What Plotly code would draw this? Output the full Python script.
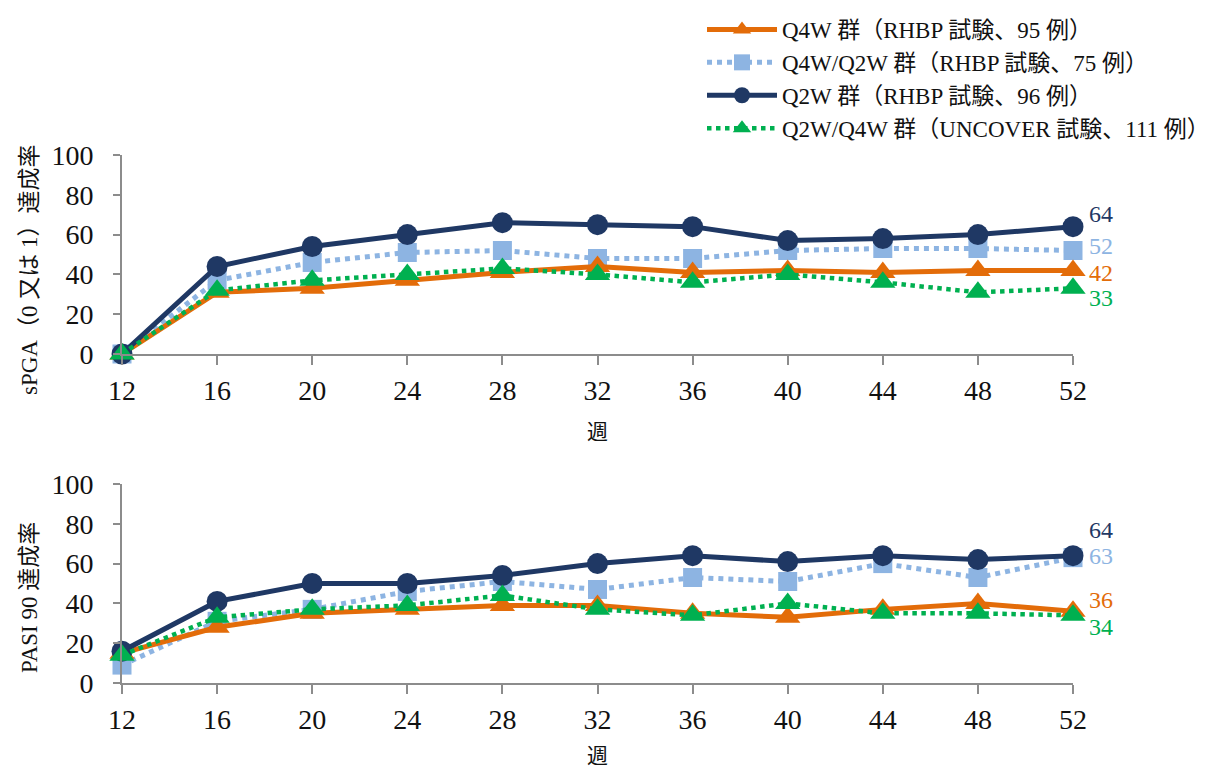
import plotly.graph_objects as go

weeks = [12, 16, 20, 24, 28, 32, 36, 40, 44, 48, 52]
x_ticks = [12, 16, 20, 24, 28, 32, 36, 40, 44, 48, 52]
y_ticks = [0, 20, 40, 60, 80, 100]

series_names = [
    "Q4W 群（RHBP 試験、95 例）",
    "Q4W/Q2W 群（RHBP 試験、75 例）",
    "Q2W 群（RHBP 試験、96 例）",
    "Q2W/Q4W 群（UNCOVER 試験、111 例）",
]

# sPGA (0 or 1) response rate
spga_q4w = [0, 31, 33, 37, 41, 44, 41, 42, 41, 42, 42]
spga_q4w_q2w = [0, 37, 46, 51, 52, 48, 48, 52, 53, 53, 52]
spga_q2w = [0, 44, 54, 60, 66, 65, 64, 57, 58, 60, 64]
spga_q2w_q4w = [0, 32, 37, 40, 43, 40, 36, 40, 36, 31, 33]

# PASI 90 response rate
pasi_q4w = [15, 28, 35, 37, 39, 39, 35, 33, 37, 40, 36]
pasi_q4w_q2w = [9, 31, 37, 46, 51, 47, 53, 51, 60, 53, 63]
pasi_q2w = [16, 41, 50, 50, 54, 60, 64, 61, 64, 62, 64]
pasi_q2w_q4w = [14, 33, 37, 39, 44, 37, 34, 40, 35, 35, 34]

y_titles = ["sPGA（0 又は 1）達成率", "PASI 90 達成率"]
x_title = "週"

colors = ["#E36C09", "#8DB4E2", "#1F3864", "#00B050"]
symbols = ["triangle-up", "square", "circle", "triangle-up"]
dashes = ["solid", "dot", "solid", "dot"]
widths = [5, 5, 5, 4.5]
msizes = [22, 19, 21, 22]
draw_order = [1, 0, 2, 3]

FONT = "'Liberation Serif', 'Noto Sans CJK JP', serif"

panels = [
    [spga_q4w, spga_q4w_q2w, spga_q2w, spga_q2w_q4w],
    [pasi_q4w, pasi_q4w_q2w, pasi_q2w, pasi_q2w_q4w],
]
# label vertical offsets (px) for end labels
label_shifts = [[-3, 5, 13, -10], [11, 2, 26, -12]]

W, H = 1225, 772
OFF = 8  # page body margin


def px_x(v):
    return (v - OFF) / W


def px_y(v):
    return 1 - (v - OFF) / H


fig = go.Figure()
for p, data in enumerate(panels):
    xa = "x" if p == 0 else "x2"
    ya = "y" if p == 0 else "y2"
    for i in draw_order:
        fig.add_trace(go.Scatter(
            x=weeks, y=data[i], xaxis=xa, yaxis=ya,
            mode="lines+markers", name=series_names[i],
            line=dict(color=colors[i], width=widths[i], dash=dashes[i]),
            marker=dict(symbol=symbols[i], size=msizes[i], color=colors[i]),
            showlegend=(p == 0), legendrank=i + 1, cliponaxis=False,
        ))
    for i in range(4):
        fig.add_annotation(
            x=weeks[-1], y=data[i][-1], xref=xa, yref=ya,
            text=str(data[i][-1]), showarrow=False, xanchor="left",
            yanchor="middle", xshift=14, yshift=label_shifts[p][i],
            font=dict(family=FONT, size=24, color=colors[i]),
        )

axis_common = dict(
    showgrid=False, zeroline=False, showline=True, linecolor="#8C8C8C",
    linewidth=2, ticks="outside", tickcolor="#8C8C8C", tickwidth=2,
    tickfont=dict(family=FONT, size=28, color="#111"), automargin=False,
)
xd = [px_x(122), px_x(1073)]
fig.update_layout(
    width=W, height=H,
    margin=dict(l=0, r=0, t=0, b=0, autoexpand=False),
    paper_bgcolor="white", plot_bgcolor="white",
    font=dict(family=FONT, color="#111"),
    xaxis=dict(domain=xd, anchor="y", range=[12, 52], tickvals=x_ticks, ticklen=9,
               ticklabelstandoff=1, **axis_common),
    yaxis=dict(domain=[px_y(354), px_y(155)], anchor="x", range=[0, 100],
               tickvals=y_ticks, ticklen=7, ticklabelstandoff=14, **axis_common),
    xaxis2=dict(domain=xd, anchor="y2", range=[12, 52], tickvals=x_ticks, ticklen=9,
                ticklabelstandoff=1, **axis_common),
    yaxis2=dict(domain=[px_y(683), px_y(484)], anchor="x2", range=[0, 100],
                tickvals=y_ticks, ticklen=7, ticklabelstandoff=14, **axis_common),
    legend=dict(x=px_x(702), y=px_y(8), xanchor="left", yanchor="top",
                font=dict(family=FONT, size=23, color="#111"),
                itemwidth=70, bgcolor="rgba(0,0,0,0)", traceorder="normal"),
    showlegend=True,
)

# axis titles
for yc, t in zip([270, 598], y_titles):
    fig.add_annotation(x=px_x(29), y=px_y(yc), xref="paper", yref="paper",
                       text=t, textangle=-90, showarrow=False,
                       xanchor="center", yanchor="middle",
                       font=dict(family=FONT, size=23, color="#111"))
for yc in [432, 756]:
    fig.add_annotation(x=(xd[0] + xd[1]) / 2, y=px_y(yc), xref="paper", yref="paper",
                       text=x_title, showarrow=False,
                       xanchor="center", yanchor="middle",
                       font=dict(family=FONT, size=21, color="#111"))

fig.write_html("out.html")
